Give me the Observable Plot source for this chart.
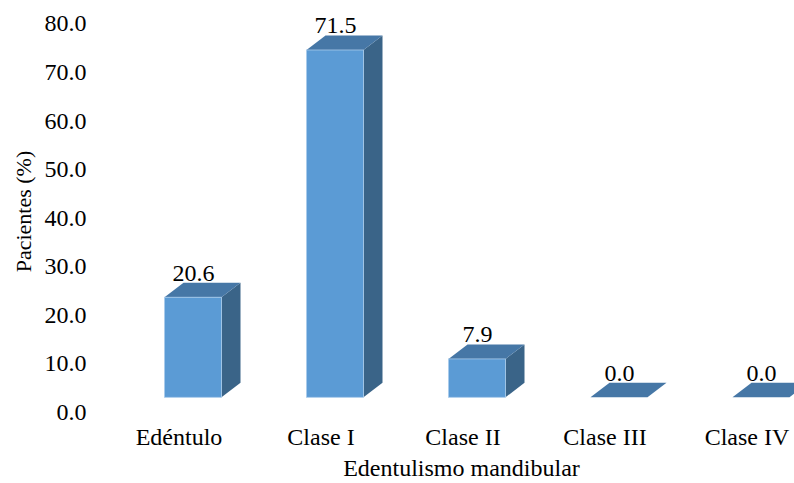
<!DOCTYPE html>
<html>
<head>
<meta charset="utf-8">
<script src="https://cdn.jsdelivr.net/npm/d3@7"></script>
<script src="https://cdn.jsdelivr.net/npm/@observablehq/plot@0.6"></script>
<style>
  html, body { margin: 0; padding: 0; background: #fff; }
</style>
</head>
<body>
<div id="chart"></div>
<script>
// Edentulismo mandibular: distribución de pacientes (%)
const categories = ["Edéntulo", "Clase I", "Clase II", "Clase III", "Clase IV"];
const values = [20.6, 71.5, 7.9, 0.0, 0.0];
const yTicks = [0, 10, 20, 30, 40, 50, 60, 70, 80];
const xTitle = "Edentulismo mandibular";
const yTitle = "Pacientes (%)";

// Pseudo-3D look: depth of each column in pixels
const DEPTH_X = 19;
const DEPTH_Y = 14.5;
const SHIFT = 14.5;      // front face sits to the right of the category label
const FS = 24;           // font size
const SERIF = "'Liberation Serif', 'Times New Roman', serif";
const font = {fontFamily: SERIF, fontVariant: "normal", fontSize: FS};

const FRONT = "#5b9bd5";
const TOP = "#4677a6";
const SIDE = "#3a6488";

const rows = categories.map((c, i) => ({cat: c, value: values[i]}));

const W = 794, H = 483;
const marginTop = 8.7, marginBottom = 85.7, marginLeft = 128, marginRight = 0;

const plot = Plot.plot({
  width: W,
  height: H,
  marginTop, marginBottom, marginLeft, marginRight,
  style: {fontFamily: SERIF, fontSize: FS + "px", color: "#000", background: "#fff"},
  x: {domain: categories, range: [105.75, 818.25], paddingInner: 0.6, paddingOuter: 0.3},
  y: {domain: [0, 80]},
  marks: [
    Plot.axisY({...font, ticks: yTicks, tickFormat: d => d.toFixed(1), tickSize: 0, tickPadding: 42, dy: 14.5, label: null}),
    Plot.axisX({...font, tickSize: 0, tickPadding: 30, label: null}),
    // side faces
    Plot.barY(rows, {x: "cat", y: "value", dx: SHIFT, fill: SIDE}),
    // top faces
    Plot.barY(rows, {x: "cat", y: "value", dx: SHIFT, fill: TOP}),
    // front faces
    Plot.barY(rows, {x: "cat", y: "value", dx: SHIFT, fill: FRONT, stroke: "#a9cbeb", strokeWidth: 0.8}),
    // value labels
    Plot.text(rows, {...font, x: "cat", y: "value", text: d => d.value.toFixed(1), dx: SHIFT, dy: -(DEPTH_Y + 2.5 + 0.32 * FS), fill: "#000"}),
    // axis titles
    Plot.text([xTitle], {...font, frameAnchor: "bottom", textAnchor: "middle", lineAnchor: "top", dy: 61, fill: "#000"}),
    Plot.text([yTitle], {...font, fontSize: 22, frameAnchor: "left", textAnchor: "middle", lineAnchor: "middle", rotate: -90, dx: -105, dy: 8, fill: "#000"})
  ]
});

// Turn the copies of each column into skewed top and side faces
const skewX = -Math.atan(DEPTH_X / DEPTH_Y) * 180 / Math.PI;
const skewY = -Math.atan(DEPTH_Y / DEPTH_X) * 180 / Math.PI;
const barGroups = plot.querySelectorAll('g[aria-label="bar"]');
const [sideGroup, topGroup] = barGroups;

topGroup.querySelectorAll("rect").forEach(r => {
  const x = +r.getAttribute("x"), y = +r.getAttribute("y"), w = +r.getAttribute("width");
  r.setAttribute("x", 0);
  r.setAttribute("y", -DEPTH_Y);
  r.setAttribute("width", w);
  r.setAttribute("height", DEPTH_Y);
  r.setAttribute("transform", `translate(${x},${y}) skewX(${skewX})`);
});

sideGroup.querySelectorAll("rect").forEach(r => {
  const x = +r.getAttribute("x"), y = +r.getAttribute("y"),
        w = +r.getAttribute("width"), h = +r.getAttribute("height");
  r.setAttribute("x", 0);
  r.setAttribute("y", -h);
  r.setAttribute("width", DEPTH_X);
  r.setAttribute("height", h);
  r.setAttribute("transform", `translate(${x + w},${y + h}) skewY(${skewY})`);
});

document.getElementById("chart").appendChild(plot);
</script>
</body>
</html>
